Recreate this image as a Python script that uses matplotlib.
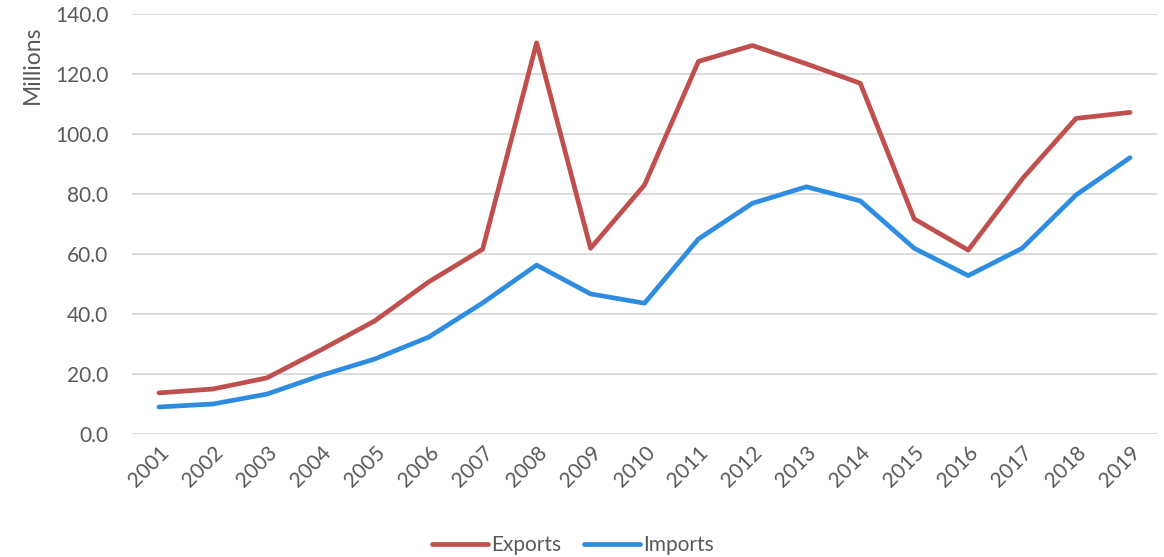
import matplotlib
matplotlib.use("Agg")
import matplotlib.pyplot as plt

years = [str(y) for y in range(2001, 2020)]
exports = [13.7, 15.0, 18.7, 28.0, 37.7, 50.7, 61.6, 130.4, 61.9, 83.0, 124.2,
           129.5, 123.4, 116.9, 71.7, 61.3, 85.0, 105.2, 107.2]
imports = [9.0, 10.0, 13.3, 19.5, 25.0, 32.3, 43.7, 56.3, 46.7, 43.6, 65.0,
           76.9, 82.4, 77.7, 61.9, 52.8, 61.9, 79.7, 92.1]
yticks = [0, 20, 40, 60, 80, 100, 120, 140]

plt.rcParams['font.family'] = ['Lato', 'DejaVu Sans']
txt = '#595959'

fig = plt.figure(figsize=(11.64, 5.57), dpi=100)
ax = fig.add_axes([132/1164, 1-434/557, (1157-132)/1164, (434-14)/557])

x = list(range(len(years)))
ax.plot(x, exports, color='#C0504D', lw=3.4, solid_capstyle='round', solid_joinstyle='round', label='Exports', zorder=3)
ax.plot(x, imports, color='#2E8DE0', lw=3.4, solid_capstyle='round', solid_joinstyle='round', label='Imports', zorder=3)

ax.set_xlim(-0.5, len(years) - 0.5)
ax.set_ylim(0, 140)
ax.set_yticks(yticks)
ax.set_yticklabels([f"{v:.1f}" for v in yticks])
ax.set_xticks(x)
ax.set_xticklabels(years, rotation=45, ha='right', rotation_mode='anchor')
ax.tick_params(axis='both', length=0, labelsize=15, colors=txt)
ax.tick_params(axis='y', pad=17)
ax.tick_params(axis='x', pad=6)
ax.grid(axis='y', color='#D9D9D9', lw=1.3)
ax.set_axisbelow(True)
for s in ax.spines.values():
    s.set_visible(False)

fig.text(32/1164, 1-65/557, 'Millions', rotation=90, ha='center', va='center', fontsize=16.5, color=txt)

leg = fig.legend(loc='center', bbox_to_anchor=(573/1164, 1-545/557), ncol=2, frameon=False,
                 fontsize=15, handlelength=2.7, handletextpad=0.15, columnspacing=1.1)
for t in leg.get_texts():
    t.set_color(txt)

fig.savefig('out.png', dpi=100, facecolor='white')
